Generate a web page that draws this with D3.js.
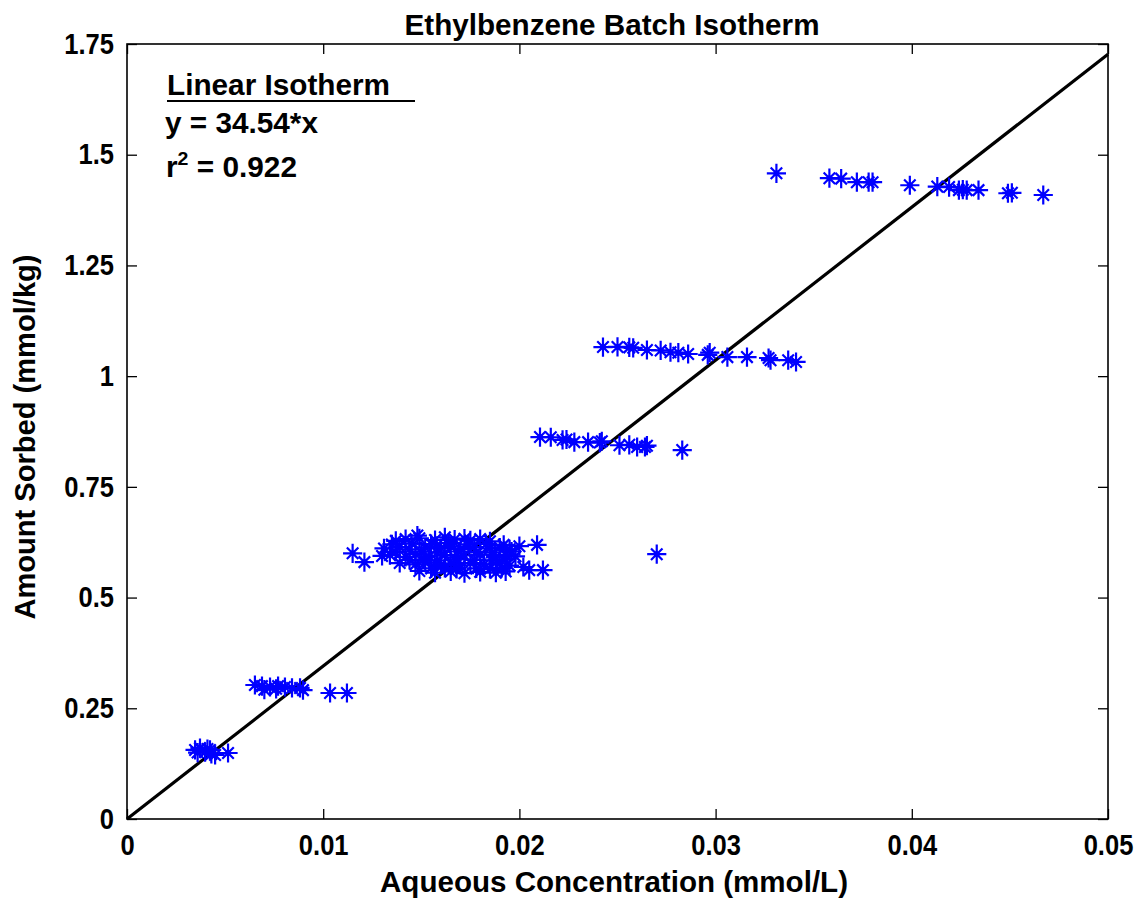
<!DOCTYPE html>
<html>
<head>
<meta charset="utf-8">
<script src="https://cdn.jsdelivr.net/npm/d3@7"></script>
<style>
  html, body { margin: 0; padding: 0; background: #fff; }
  svg text { font-family: Arial, "Liberation Sans", sans-serif; font-weight: bold; fill: #000; }
</style>
</head>
<body>
<svg id="chart" width="1144" height="902"></svg>
<script>
// ---------- data ----------
const title = "Ethylbenzene Batch Isotherm";
const xLabel = "Aqueous Concentration (mmol/L)";
const yLabel = "Amount Sorbed (mmol/kg)";
const xTicks = [0, 0.01, 0.02, 0.03, 0.04, 0.05];
const xTickLabels = ["0", "0.01", "0.02", "0.03", "0.04", "0.05"];
const yTicks = [0, 0.25, 0.5, 0.75, 1, 1.25, 1.5, 1.75];
const yTickLabels = ["0", "0.25", "0.5", "0.75", "1", "1.25", "1.5", "1.75"];
const slope = 34.54;
const fitLabel = "Linear Isotherm";
const fitEquation = "y = 34.54*x";
const fitR2 = "0.922";

// aqueous concentration (mmol/L)
const concX = [
  // ~0.15 group
  0.00347, 0.00372, 0.00398, 0.00423, 0.00449, 0.00360, 0.00410, 0.00430, 0.00515,
  // ~0.29 group
  0.00652, 0.00688, 0.00729, 0.00770, 0.00805, 0.00841, 0.00882, 0.00700, 0.00760, 0.00897, 0.01035, 0.01121,
  // ~0.6 cluster
  0.0137, 0.0142, 0.0149, 0.0157, 0.0162, 0.0167, 0.0172, 0.0175, 0.0180, 0.0185,
  0.0131, 0.0139, 0.0144, 0.0152, 0.0160, 0.0165, 0.0170, 0.0177, 0.0185, 0.0190, 0.0195, 0.0200,
  0.0134, 0.0142, 0.0147, 0.0154, 0.0162, 0.0167, 0.0172, 0.0180, 0.0188, 0.0193, 0.0198,
  0.0139, 0.0147, 0.0152, 0.0160, 0.0165, 0.0170, 0.0175, 0.0182, 0.0190, 0.0195,
  0.0149, 0.0157, 0.0165, 0.0172, 0.0180, 0.0188, 0.0193,
  0.0135, 0.0145, 0.0155, 0.0164, 0.0174, 0.0183, 0.0192,
  0.0137, 0.0150, 0.0158, 0.0169, 0.0178, 0.0186, 0.0196,
  0.0144, 0.0151, 0.0158, 0.0168, 0.0177, 0.0186, 0.0193,
  0.0155, 0.0162, 0.0168, 0.0178, 0.0185, 0.0191,
  0.0115, 0.0121, 0.0130, 0.0148, 0.0209, 0.0212, 0.0205, 0.0202, 0.0270,
  // ~0.85 group
  0.02105, 0.0216, 0.0222, 0.0224, 0.0228, 0.0235, 0.0241, 0.0242, 0.0251, 0.0256, 0.0260, 0.0264, 0.0265, 0.0283,
  // ~1.05 group
  0.02426, 0.0250, 0.0256, 0.0258, 0.0265, 0.0272, 0.0277, 0.0281, 0.0286, 0.0296, 0.0297, 0.0306, 0.0316, 0.0327, 0.0328, 0.0337, 0.0341,
  // ~1.43 group
  0.0331, 0.0358, 0.0364, 0.0372, 0.0378, 0.0380, 0.0399, 0.0413, 0.0419, 0.0424, 0.0426, 0.0428, 0.0434, 0.0449, 0.0451, 0.0467
];
// amount sorbed (mmol/kg)
const sorbed = [
  0.156, 0.160, 0.151, 0.156, 0.1445, 0.150, 0.158, 0.147, 0.149,
  0.3026, 0.300, 0.298, 0.300, 0.298, 0.296, 0.296, 0.292, 0.294, 0.291, 0.2845, 0.2845,
  0.628, 0.632, 0.634, 0.630, 0.636, 0.631, 0.633, 0.629, 0.632, 0.627,
  0.611, 0.614, 0.609, 0.613, 0.612, 0.615, 0.610, 0.614, 0.611, 0.613, 0.609, 0.616,
  0.596, 0.592, 0.598, 0.593, 0.596, 0.591, 0.595, 0.597, 0.592, 0.596, 0.593,
  0.578, 0.575, 0.579, 0.574, 0.577, 0.573, 0.578, 0.575, 0.577, 0.572,
  0.560, 0.556, 0.559, 0.555, 0.558, 0.556, 0.559,
  0.620, 0.622, 0.621, 0.623, 0.620, 0.621, 0.619,
  0.603, 0.604, 0.602, 0.604, 0.603, 0.602, 0.604,
  0.585, 0.586, 0.584, 0.586, 0.585, 0.584, 0.586,
  0.566, 0.567, 0.565, 0.566, 0.565, 0.567,
  0.600, 0.580, 0.594, 0.640, 0.619, 0.562, 0.562, 0.569, 0.598,
  0.8625, 0.862, 0.856, 0.857, 0.851, 0.851, 0.850, 0.853, 0.844, 0.845, 0.840, 0.840, 0.843, 0.833,
  1.0657, 1.066, 1.065, 1.064, 1.059, 1.058, 1.054, 1.053, 1.050, 1.048, 1.053, 1.043, 1.043, 1.041, 1.036, 1.036, 1.032,
  1.458, 1.447, 1.446, 1.438, 1.438, 1.438, 1.431, 1.428, 1.427, 1.420, 1.421, 1.420, 1.420, 1.413, 1.414, 1.409
];

// ---------- layout ----------
const svg = d3.select("#chart");
const L = 127, R = 1108, T = 44, B = 819;
const FS = 29;
const x = d3.scaleLinear().domain([0, 0.05]).range([L, R]);
const y = d3.scaleLinear().domain([0, 1.75]).range([B, T]);
const fmtX = d => xTickLabels[xTicks.indexOf(d)];
const fmtY = d => yTickLabels[yTicks.indexOf(d)];

// fit line
const fitData = [0, 0.05].map(v => [v, slope * v]);
svg.append("path")
  .datum(fitData)
  .attr("d", d3.line().x(d => x(d[0])).y(d => y(d[1])))
  .attr("stroke", "#000").attr("stroke-width", 3.2).attr("fill", "none");

// asterisk markers
const asterisk = {
  draw(ctx, size) {
    const r = Math.sqrt(size);
    const d = r * 0.6;
    ctx.moveTo(-r, 0); ctx.lineTo(r, 0);
    ctx.moveTo(0, -r); ctx.lineTo(0, r);
    ctx.moveTo(-d, -d); ctx.lineTo(d, d);
    ctx.moveTo(-d, d); ctx.lineTo(d, -d);
  }
};
const sym = d3.symbol().type(asterisk).size(92);
const pts = concX.map((c, i) => [c, sorbed[i]]);
const gm = svg.append("g");
gm.selectAll("path.star")
  .data(pts)
  .join("path").attr("class", "star")
  .attr("transform", d => `translate(${x(d[0])},${y(d[1])})`)
  .attr("d", sym)
  .attr("stroke", "#0000ff").attr("stroke-width", 2.2).attr("fill", "none");
gm.selectAll("circle")
  .data(pts)
  .join("circle")
  .attr("cx", d => x(d[0])).attr("cy", d => y(d[1])).attr("r", 2.8)
  .attr("fill", "#0000ff");

// axes (inward ticks, box)
const tickLen = 10;
const gx = svg.append("g").attr("transform", `translate(0,${B})`)
  .call(d3.axisBottom(x).tickValues(xTicks).tickFormat(fmtX).tickSizeInner(-tickLen).tickSizeOuter(0).tickPadding(15));
const gy = svg.append("g").attr("transform", `translate(${L},0)`)
  .call(d3.axisLeft(y).tickValues(yTicks).tickFormat(fmtY).tickSizeInner(-tickLen).tickSizeOuter(0).tickPadding(13));
const gt = svg.append("g").attr("transform", `translate(0,${T})`)
  .call(d3.axisTop(x).tickValues(xTicks).tickFormat("").tickSizeInner(-tickLen).tickSizeOuter(0));
const gr = svg.append("g").attr("transform", `translate(${R},0)`)
  .call(d3.axisRight(y).tickValues(yTicks).tickFormat("").tickSizeInner(-tickLen).tickSizeOuter(0));
[gx, gy, gt, gr].forEach(g => {
  g.select(".domain").remove();
  g.selectAll(".tick line").attr("stroke", "#000").attr("stroke-width", 1.3);
  g.selectAll("text").attr("font-size", FS).attr("font-family", "Arial, 'Liberation Sans', sans-serif")
    .attr("font-weight", "bold").attr("fill", "#000")
    .each(function () {
      const w = this.getComputedTextLength();
      d3.select(this).attr("textLength", w * 0.88).attr("lengthAdjust", "spacingAndGlyphs");
    });
});
svg.append("rect").attr("x", L).attr("y", T).attr("width", R - L).attr("height", B - T)
  .attr("fill", "none").attr("stroke", "#000").attr("stroke-width", 1.6);

// titles
function fitText(sel, w) {
  sel.attr("textLength", w).attr("lengthAdjust", "spacingAndGlyphs");
}
svg.append("text").attr("x", 612).attr("y", 35).attr("text-anchor", "middle")
  .attr("font-size", FS).text(title).call(fitText, 415);
svg.append("text").attr("x", 614).attr("y", 892).attr("text-anchor", "middle")
  .attr("font-size", FS).text(xLabel).call(fitText, 468);
svg.append("text").attr("transform", "translate(35,437) rotate(-90)").attr("text-anchor", "middle")
  .attr("font-size", FS).text(yLabel).call(fitText, 365);

// legend annotation
svg.append("text").attr("x", 167).attr("y", 95).attr("font-size", FS).text(fitLabel).call(fitText, 223);
svg.append("line").attr("x1", 167).attr("x2", 415).attr("y1", 101).attr("y2", 101)
  .attr("stroke", "#000").attr("stroke-width", 2);
svg.append("text").attr("x", 165).attr("y", 133).attr("font-size", FS).text(fitEquation).call(fitText, 153);
const r2 = svg.append("text").attr("x", 166).attr("y", 177).attr("font-size", FS);
r2.append("tspan").text("r");
r2.append("tspan").attr("font-size", 19).attr("dy", -12).text("2");
r2.append("tspan").attr("dy", 12).text(" = " + fitR2);
r2.attr("textLength", 131).attr("lengthAdjust", "spacingAndGlyphs");
</script>
</body>
</html>
